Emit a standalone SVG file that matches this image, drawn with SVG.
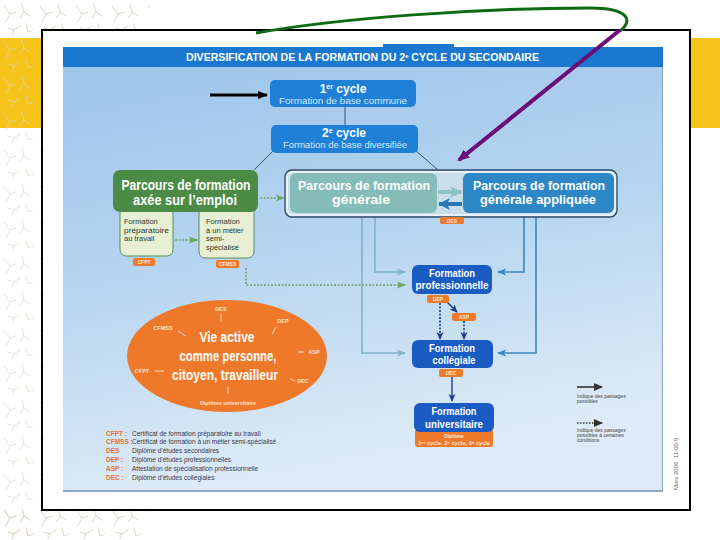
<svg xmlns="http://www.w3.org/2000/svg" width="720" height="540" viewBox="0 0 720 540">
<defs>
  <linearGradient id="panelGrad" x1="0" y1="0" x2="0.25" y2="1">
    <stop offset="0" stop-color="#9cc4ec"/>
    <stop offset="0.5" stop-color="#b5d4f0"/>
    <stop offset="1" stop-color="#deebf6"/>
  </linearGradient>
  <pattern id="deco" width="36" height="36" patternUnits="userSpaceOnUse">
    <g fill="none" stroke="#ddd4bf" stroke-width="1" stroke-linecap="round">
      <path d="M4 6 L10 14 L6 22 M10 14 L16 12"/>
      <path d="M22 4 L24 12 L30 16 M24 12 L20 18"/>
      <path d="M8 28 L14 30 L12 35 M14 30 L20 26"/>
      <path d="M26 24 L28 32 L33 30"/>
    </g>
  </pattern>
  <marker id="mBlack" markerWidth="10" markerHeight="10" refX="9" refY="5" orient="auto" markerUnits="userSpaceOnUse"><path d="M0,1 L10,5 L0,9 z" fill="#000"/></marker>
  <marker id="mPurple" markerWidth="12" markerHeight="12" refX="10" refY="6" orient="auto" markerUnits="userSpaceOnUse"><path d="M0,1 L12,6 L0,11 z" fill="#6b0d78"/></marker>
  <marker id="mTeal" markerWidth="9" markerHeight="8" refX="8" refY="4" orient="auto" markerUnits="userSpaceOnUse"><path d="M0,0.5 L9,4 L0,7.5 L2,4 z" fill="#7fb4c4"/></marker>
  <marker id="mBlue" markerWidth="9" markerHeight="8" refX="8" refY="4" orient="auto" markerUnits="userSpaceOnUse"><path d="M0,0.5 L9,4 L0,7.5 L2,4 z" fill="#3a86c0"/></marker>
  <marker id="mGreen" markerWidth="9" markerHeight="8" refX="8" refY="4" orient="auto" markerUnits="userSpaceOnUse"><path d="M0,0.5 L9,4 L0,7.5 L2,4 z" fill="#6aa862"/></marker>
  <marker id="mNavy" markerWidth="8" markerHeight="8" refX="7" refY="4" orient="auto" markerUnits="userSpaceOnUse"><path d="M0,0.5 L8,4 L0,7.5 L2,4 z" fill="#1f3f8c"/></marker>
  <marker id="mGray" markerWidth="9" markerHeight="8" refX="8" refY="4" orient="auto" markerUnits="userSpaceOnUse"><path d="M0,0 L9,4 L0,8 z" fill="#333"/></marker>
  <marker id="mBigTeal" markerWidth="12" markerHeight="12" refX="11" refY="6" orient="auto" markerUnits="userSpaceOnUse"><path d="M0,0 L12,6 L0,12 L3,6 z" fill="#8fc2c2"/></marker>
  <marker id="mBigBlue" markerWidth="12" markerHeight="12" refX="11" refY="6" orient="auto" markerUnits="userSpaceOnUse"><path d="M0,0 L12,6 L0,12 L3,6 z" fill="#2a78b8"/></marker>
</defs>
<style>
  text { font-family: "Liberation Sans", Arial, sans-serif; }
  .title { font-size: 11px; font-weight: bold; fill: #fff; }
  .cyc { font-size: 12px; font-weight: bold; fill: #fff; text-anchor: middle; }
  .cycsub { font-size: 9px; fill: #d6e8fb; text-anchor: middle; }
  .big { font-size: 14px; font-weight: bold; fill: #fff; text-anchor: middle; }
  .gen { font-size: 13px; font-weight: bold; fill: #fff; text-anchor: middle; }
  .node { font-size: 11px; font-weight: bold; fill: #fff; text-anchor: middle; }
  .sub { font-size: 7.5px; fill: #2b3a2b; }
  .pill { fill: #f07a2c; }
  .pilltxt { font-size: 5px; font-weight: bold; fill: #fde7d2; text-anchor: middle; }
  .ell { font-size: 14px; font-weight: bold; fill: #fff; text-anchor: middle; }
  .elab { font-size: 5.5px; font-weight: bold; fill: #fde3cc; text-anchor: middle; }
  .tick { stroke: #fde3cc; stroke-width: 0.9; }
  .abbr { font-size: 6.5px; font-weight: bold; fill: #e8742c; }
  .desc { font-size: 6.5px; fill: #3a3a4a; }
  .leg { font-size: 5px; fill: #444; }
  .teal { stroke: #7fb4c4; stroke-width: 1.6; fill: none; }
  .blue { stroke: #3a86c0; stroke-width: 1.6; fill: none; }
  .gdot { stroke: #6aa862; stroke-width: 1.6; fill: none; stroke-dasharray: 2 1.5; }
  .navy { stroke: #1f3f8c; stroke-width: 1.4; fill: none; }
  .ndot { stroke: #1f3f8c; stroke-width: 1.6; fill: none; stroke-dasharray: 2 1.5; }
  .thin { stroke: #2d4560; stroke-width: 0.9; fill: none; }
  .bnode { fill: #1b5cc2; }
  .cnode { fill: #1f80d8; }
</style>

<!-- slide background -->
<rect x="0" y="0" width="720" height="540" fill="#fff"/>
<rect x="0" y="38" width="720" height="90" fill="#f6c51c"/>
<rect x="0" y="0" width="150" height="38" fill="url(#deco)"/>
<rect x="0" y="38" width="42" height="502" fill="url(#deco)" opacity="0.7"/>
<rect x="0" y="510" width="150" height="30" fill="url(#deco)"/>

<!-- frame -->
<rect x="42" y="30" width="648" height="480" fill="#fff" stroke="#000" stroke-width="2"/>

<!-- panel -->
<g id="panel">
  <rect x="63" y="47" width="600" height="444" fill="url(#panelGrad)"/>
  <line x1="63" y1="491" x2="663" y2="491" stroke="#6f8fae" stroke-width="1.5"/>
  <line x1="662.5" y1="67" x2="662.5" y2="491" stroke="#8aa8c4" stroke-width="1"/>
  <rect x="383" y="44" width="71" height="4" fill="#1a78d0"/>
  <rect x="63" y="47" width="600" height="20" fill="#1a78d0"/>
  <text class="title" x="186" y="61" textLength="353" lengthAdjust="spacingAndGlyphs">DIVERSIFICATION DE LA FORMATION DU 2<tspan font-size="6" dy="-3">e</tspan><tspan dy="3"> CYCLE DU SECONDAIRE</tspan></text>
  <text x="678" y="490" transform="rotate(-90 678 490)" font-size="6" fill="#666">Mars 2006</text>
  <text x="678" y="458" transform="rotate(-90 678 458)" font-size="6" fill="#666">11-00-5</text>
</g>

<!-- connectors -->
<g id="connectors">
  <line class="thin" x1="345" y1="106" x2="345" y2="125"/>
  <line class="thin" x1="273" y1="151" x2="254" y2="170"/>
  <line class="thin" x1="415" y1="150" x2="438" y2="170"/>
  <line class="gdot" x1="260" y1="198" x2="284" y2="198" marker-end="url(#mGreen)"/>
  <line class="gdot" x1="175" y1="240" x2="197" y2="240" marker-end="url(#mGreen)"/>
  <polyline class="gdot" points="246,268 246,285 405,285" marker-end="url(#mGreen)"/>
  <polyline class="teal" points="375,214 375,272 405,272" marker-end="url(#mTeal)"/>
  <polyline class="teal" points="362,214 362,353 405,353" marker-end="url(#mTeal)"/>
  <polyline class="blue" points="524,213 524,272 498,272" marker-end="url(#mBlue)"/>
  <polyline class="blue" points="536,213 536,353 498,353" marker-end="url(#mBlue)"/>
  <line class="navy" x1="447" y1="302" x2="457" y2="312" marker-end="url(#mNavy)"/>
  <line class="ndot" x1="440" y1="303" x2="440" y2="339" marker-end="url(#mNavy)"/>
  <line class="ndot" x1="464" y1="321" x2="464" y2="339" marker-end="url(#mNavy)"/>
  <line class="navy" x1="452" y1="377" x2="452" y2="401" marker-end="url(#mNavy)"/>
</g>

<!-- nodes -->
<g id="cycle1">
  <rect class="cnode" x="270" y="80" width="146" height="27" rx="5"/>
  <text class="cyc" x="343" y="93">1<tspan font-size="7" dy="-4">er</tspan><tspan dy="4"> cycle</tspan></text>
  <text class="cycsub" x="343" y="104" textLength="128" lengthAdjust="spacingAndGlyphs">Formation de base commune</text>
</g>
<g id="cycle2">
  <rect class="cnode" x="271" y="125" width="147" height="28" rx="5"/>
  <text class="cyc" x="344" y="137">2<tspan font-size="7" dy="-4">e</tspan><tspan dy="4"> cycle</tspan></text>
  <text class="cycsub" x="345" y="148" textLength="124" lengthAdjust="spacingAndGlyphs">Formation de base diversifiée</text>
</g>

<g id="emploi">
  <rect x="120" y="200" width="53" height="56" rx="6" fill="#e7efd5" stroke="#5c8c52" stroke-width="1"/>
  <rect x="199" y="200" width="55" height="58" rx="6" fill="#e7efd5" stroke="#5c8c52" stroke-width="1"/>
  <rect x="113" y="170" width="145" height="42" rx="7" fill="#4b8b45"/>
  <text class="big" x="186" y="190" textLength="129" lengthAdjust="spacingAndGlyphs">Parcours de formation</text>
  <text class="big" x="185" y="205" textLength="104" lengthAdjust="spacingAndGlyphs">axée sur l’emploi</text>
  <text class="sub" x="124" y="224">Formation</text>
  <text class="sub" x="124" y="232.5" textLength="45" lengthAdjust="spacingAndGlyphs">préparatoire</text>
  <text class="sub" x="124" y="241">au travail</text>
  <text class="sub" x="206" y="224">Formation</text>
  <text class="sub" x="206" y="232.5">à un métier</text>
  <text class="sub" x="206" y="241">semi-</text>
  <text class="sub" x="206" y="249.5">spécialisé</text>
  <rect class="pill" x="133" y="258" width="22" height="8" rx="2"/>
  <text class="pilltxt" x="144" y="264">CFPT</text>
  <rect class="pill" x="216" y="260" width="23" height="8" rx="2"/>
  <text class="pilltxt" x="227.5" y="266">CFMSS</text>
</g>

<g id="generale">
  <rect x="285" y="170" width="332" height="47" rx="7" fill="#c8dfea" stroke="#2c4a66" stroke-width="1.3"/>
  <rect x="287" y="172" width="328" height="43" rx="6" fill="none" stroke="#f4f8fb" stroke-width="1.5"/>
  <rect x="290" y="173" width="147" height="40" rx="6" fill="#86bcb8"/>
  <text class="gen" x="364" y="190" textLength="132" lengthAdjust="spacingAndGlyphs">Parcours de formation</text>
  <text class="gen" x="361" y="204" textLength="58" lengthAdjust="spacingAndGlyphs">générale</text>
  <rect x="463" y="173" width="151" height="40" rx="6" fill="#2d87c7"/>
  <text class="gen" x="539" y="190" textLength="132" lengthAdjust="spacingAndGlyphs">Parcours de formation</text>
  <text class="gen" x="538" y="204" textLength="116" lengthAdjust="spacingAndGlyphs">générale appliquée</text>
  <line x1="438" y1="192" x2="461" y2="192" stroke="#8fc2c2" stroke-width="4" marker-end="url(#mBigTeal)"/>
  <line x1="462" y1="204" x2="439" y2="204" stroke="#2a78b8" stroke-width="4" marker-end="url(#mBigBlue)"/>
  <rect class="pill" x="440" y="217" width="24" height="7" rx="2"/>
  <text class="pilltxt" x="452" y="222.5">DES</text>
</g>

<g id="professionnelle">
  <rect class="bnode" x="412" y="265" width="80" height="29" rx="6"/>
  <text class="node" x="452" y="277" textLength="46" lengthAdjust="spacingAndGlyphs">Formation</text>
  <text class="node" x="452" y="289" textLength="73" lengthAdjust="spacingAndGlyphs">professionnelle</text>
  <rect class="pill" x="427" y="295" width="22" height="8" rx="2"/>
  <text class="pilltxt" x="438" y="301">DEP</text>
  <rect class="pill" x="452" y="313" width="24" height="8" rx="2"/>
  <text class="pilltxt" x="464" y="319">ASP</text>
</g>

<g id="collegiale">
  <rect class="bnode" x="412" y="340" width="81" height="28" rx="6"/>
  <text class="node" x="452" y="352" textLength="46" lengthAdjust="spacingAndGlyphs">Formation</text>
  <text class="node" x="454" y="364" textLength="43" lengthAdjust="spacingAndGlyphs">collégiale</text>
  <rect class="pill" x="439" y="369" width="24" height="8" rx="2"/>
  <text class="pilltxt" x="451" y="375">DEC</text>
</g>

<g id="universitaire">
  <rect x="415" y="429" width="78" height="18" rx="3" fill="#f07a2c"/>
  <rect class="bnode" x="414" y="403" width="80" height="29" rx="6"/>
  <text class="node" x="454" y="415" font-size="12" textLength="45" lengthAdjust="spacingAndGlyphs">Formation</text>
  <text class="node" x="454" y="428" font-size="12" textLength="58" lengthAdjust="spacingAndGlyphs">universitaire</text>
  <text class="pilltxt" x="454" y="438" font-size="5.5">Diplôme</text>
  <text class="pilltxt" x="454" y="445" font-size="5.5" textLength="72" lengthAdjust="spacingAndGlyphs">1<tspan font-size="4" dy="-1.5">er</tspan><tspan dy="1.5"> cycle, 2</tspan><tspan font-size="4" dy="-1.5">e</tspan><tspan dy="1.5"> cycle, 3</tspan><tspan font-size="4" dy="-1.5">e</tspan><tspan dy="1.5"> cycle</tspan></text>
</g>

<g id="vie-active">
  <ellipse cx="227" cy="356" rx="100" ry="56" fill="#ef792b"/>
  <text class="ell" x="227" y="342" textLength="55" lengthAdjust="spacingAndGlyphs">Vie active</text>
  <text class="ell" x="228" y="361" textLength="97" lengthAdjust="spacingAndGlyphs">comme personne,</text>
  <text class="ell" x="225" y="380" textLength="106" lengthAdjust="spacingAndGlyphs">citoyen, travailleur</text>
  <text class="elab" x="221" y="311">DES</text>
  <line class="tick" x1="221" y1="314" x2="221" y2="322"/>
  <text class="elab" x="283" y="323">DEP</text>
  <line class="tick" x1="276" y1="327" x2="272" y2="334"/>
  <text class="elab" x="163" y="330">CFMSS</text>
  <line class="tick" x1="178" y1="331" x2="186" y2="336"/>
  <text class="elab" x="314" y="354">ASP</text>
  <line class="tick" x1="298" y1="352" x2="304" y2="352"/>
  <text class="elab" x="142" y="373">CFPT</text>
  <line class="tick" x1="155" y1="371" x2="164" y2="371"/>
  <text class="elab" x="303" y="383">DEC</text>
  <line class="tick" x1="290" y1="379" x2="295" y2="381"/>
  <line class="tick" x1="228" y1="387" x2="228" y2="394"/>
  <text class="elab" x="228" y="405">Diplôme universitaire</text>
</g>

<g id="abreviations">
  <text class="abbr" x="106" y="436">CFPT :</text>
  <text class="desc" x="132" y="436">Certificat de formation préparatoire au travail</text>
  <text class="abbr" x="106" y="444">CFMSS :</text>
  <text class="desc" x="132" y="444">Certificat de formation à un métier semi-spécialisé</text>
  <text class="abbr" x="106" y="453">DES</text>
  <text class="desc" x="132" y="453">Diplôme d’études secondaires</text>
  <text class="abbr" x="106" y="462">DEP :</text>
  <text class="desc" x="132" y="462">Diplôme d’études professionnelles</text>
  <text class="abbr" x="106" y="471">ASP :</text>
  <text class="desc" x="132" y="471">Attestation de spécialisation professionnelle</text>
  <text class="abbr" x="106" y="480">DEC :</text>
  <text class="desc" x="132" y="480">Diplôme d’études collégiales</text>
</g>

<g id="legende">
  <line x1="577" y1="387" x2="602" y2="387" stroke="#333" stroke-width="1.6" marker-end="url(#mGray)"/>
  <text class="leg" x="577" y="398">Indique des passages</text>
  <text class="leg" x="577" y="403">possibles</text>
  <line x1="577" y1="423" x2="602" y2="423" stroke="#333" stroke-width="1.6" stroke-dasharray="1.5 1.5" marker-end="url(#mGray)"/>
  <text class="leg" x="577" y="432">Indique des passages</text>
  <text class="leg" x="577" y="437">possibles à certaines</text>
  <text class="leg" x="577" y="442">conditions</text>
</g>

<!-- annotations drawn over the slide -->
<g id="annotations">
  <line x1="210" y1="95" x2="267" y2="95" stroke="#000" stroke-width="3" marker-end="url(#mBlack)"/>
  <path d="M256 33 C 340 18, 480 8, 590 8 C 628 8, 634 20, 620 31" fill="none" stroke="#0d6a12" stroke-width="3"/>
  <line x1="620" y1="30" x2="459" y2="160" stroke="#6b0d78" stroke-width="4" marker-end="url(#mPurple)"/>
</g>
</svg>
